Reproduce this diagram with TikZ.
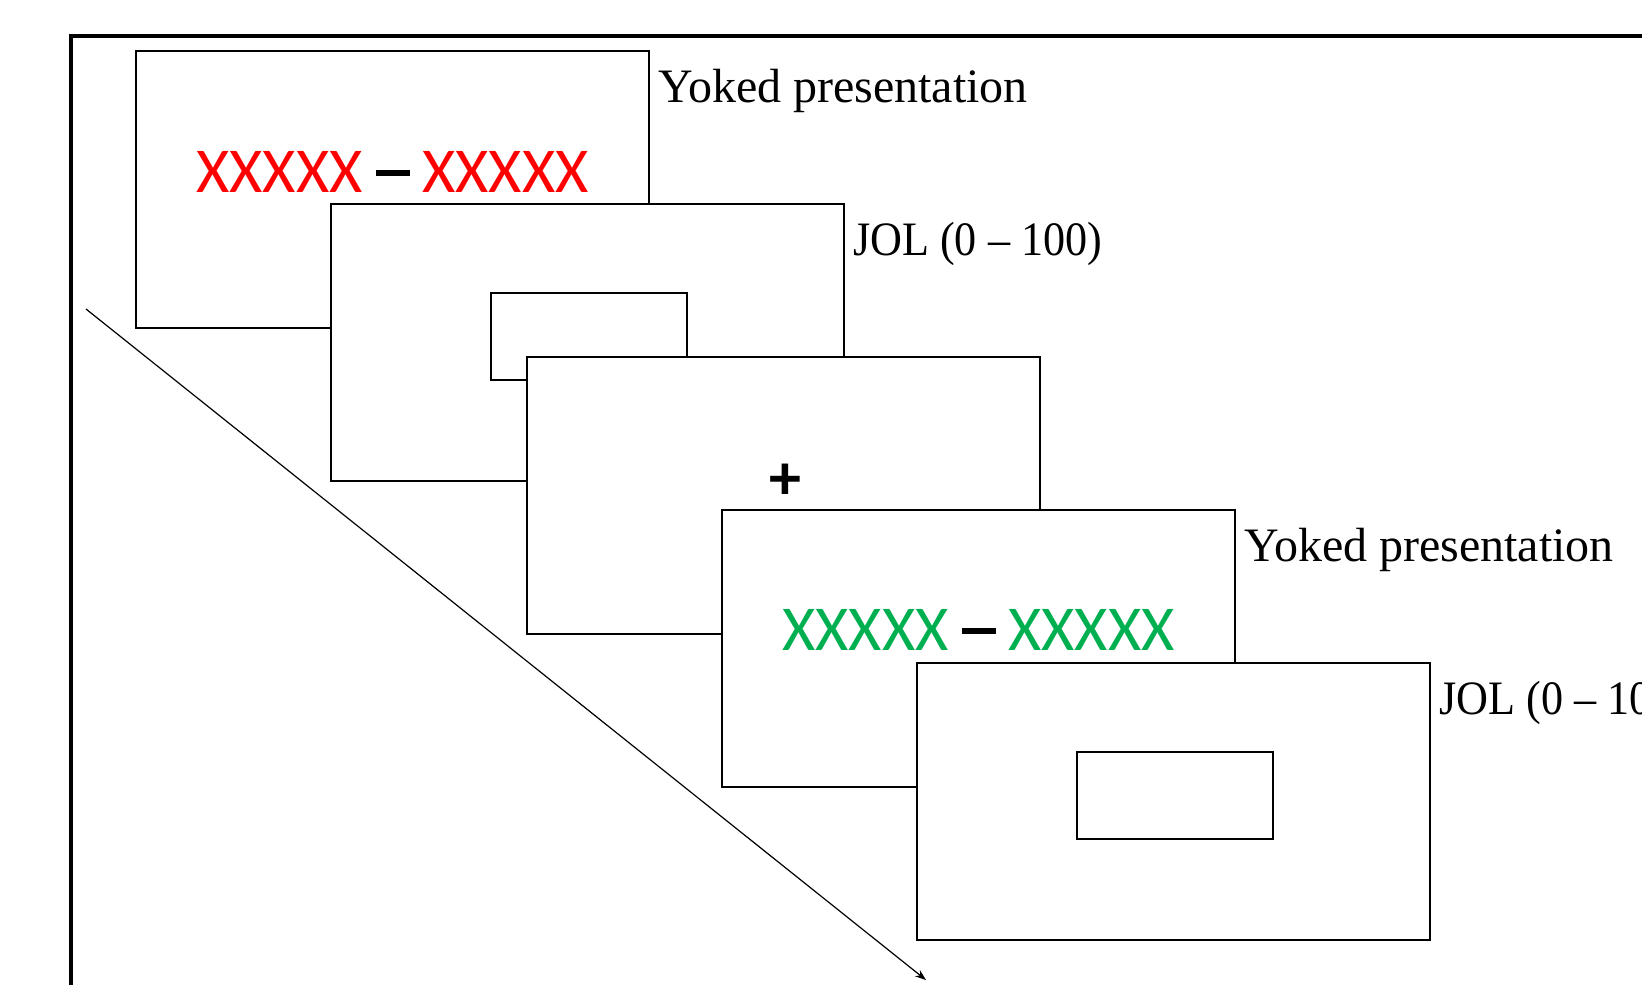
\documentclass[tikz,border=0pt]{standalone}
\usepackage{fontspec}
\setmainfont{Liberation Serif}
\newfontfamily\stimfont{Carlito}
\usetikzlibrary{arrows.meta}
\definecolor{stimred}{RGB}{255,0,0}
\definecolor{stimgreen}{RGB}{0,176,80}
\newcommand{\stimdash}{\rule[17pt]{34pt}{6pt}}
\begin{document}
\begin{tikzpicture}[x=1pt,y=-1pt,
  screen/.style={draw=black,fill=white,line width=1.5pt,minimum width=513pt,minimum height=277pt,anchor=north west,inner sep=0pt,outer sep=0pt},
  respbox/.style={draw=black,fill=white,line width=1.5pt,minimum width=196pt,minimum height=87pt,anchor=north west,inner sep=0pt,outer sep=0pt},
  cue/.style={anchor=base west,inner sep=0pt,font=\fontsize{48}{48}\selectfont},
  stim/.style={inner sep=0pt,font=\stimfont\fontsize{64}{64}\selectfont}]
\useasboundingbox (0,0) rectangle (1642,985);
\clip (0,0) rectangle (1642,985);
% outer frame
\coordinate (fbl) at (71,1100);
\coordinate (ftl) at (71,36);
\coordinate (ftr) at (1700,36);
\draw[line width=4.5pt] (fbl) -- (ftl) -- (ftr);
% time arrow
\coordinate (ta) at (86,309);
\coordinate (tb) at (926,980);
\draw[line width=1.2pt,-{Stealth[length=11pt,width=8pt]}] (ta) -- (tb);
% screens
\node[screen] (s1) at (136,51) {};
\node[stim] (x1) at ([yshift=-121pt]s1.north) {\textcolor{stimred}{XXXXX}\hspace{13pt}\stimdash\hspace{13pt}\textcolor{stimred}{XXXXX}};
\node[cue] (l1) at ([xshift=9pt,yshift=-51pt]s1.north east) {Yoked presentation};
\node[screen] (s2) at (331,204) {};
\node[respbox] (r2) at ([xshift=160pt,yshift=-89pt]s2.north west) {};
\node[cue] (l2) at ([xshift=9pt,yshift=-51pt]s2.north east) {\scalebox{0.92}[1]{JOL (0 – 100)}};
\node[screen] (s3) at (527,357) {};
\node[stim] (plus) at ([xshift=2pt,yshift=-125pt]s3.north) {\bfseries +};
\node[screen] (s4) at (722,510) {};
\node[stim] (x4) at ([yshift=-120pt]s4.north) {\textcolor{stimgreen}{XXXXX}\hspace{13pt}\stimdash\hspace{13pt}\textcolor{stimgreen}{XXXXX}};
\node[cue] (l4) at ([xshift=9pt,yshift=-51pt]s4.north east) {Yoked presentation};
\node[screen] (s5) at (917,663) {};
\node[respbox] (r5) at ([xshift=160pt,yshift=-89pt]s5.north west) {};
\node[cue] (l5) at ([xshift=9pt,yshift=-51pt]s5.north east) {\scalebox{0.92}[1]{JOL (0 – 100)}};
\end{tikzpicture}
\end{document}
